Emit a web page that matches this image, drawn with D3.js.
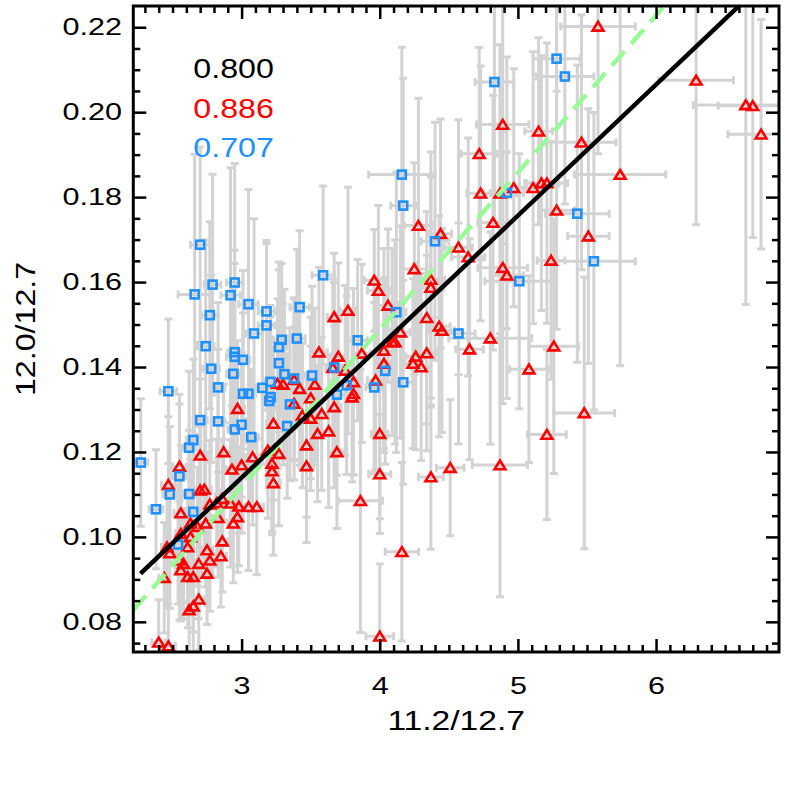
<!DOCTYPE html>
<html>
<head>
<meta charset="utf-8">
<script src="https://cdn.jsdelivr.net/npm/d3@7"></script>
<style>
  body { margin: 0; background: #fff; }
  text { font-family: "Liberation Sans", Arial, sans-serif; }
</style>
</head>
<body>
<svg id="chart" width="786" height="786"></svg>
<script>
//*** données ****************************************************************/
// triangles rouges : x, y, erreur x, erreur y
const redX = [5.58, 6.29, 6.65, 6.70, 6.76, 4.89, 5.15, 4.72, 5.46, 5.74, 4.73, 4.87, 4.97, 5.11, 5.17, 5.21, 5.28, 5.51, 4.28, 4.44,
  4.82, 4.57, 4.64, 4.25, 4.37, 4.37, 4.89, 4.92, 5.24, 4.34, 4.43, 4.45, 4.80, 4.65, 5.26, 4.15, 4.11, 4.26, 4.34, 4.24,
  4.30, 5.08, 5.48, 5.21, 4.87, 4.51, 4.37, 4.16, 4.00, 3.69, 4.00, 3.86, 4.00, 3.77, 3.67, 4.06, 3.56, 3.70, 3.87, 4.03,
  4.09, 4.03, 3.66, 3.75, 3.81, 3.81, 3.80, 3.97, 3.42, 3.26, 3.50, 3.38, 3.67, 3.58, 3.44, 3.23, 3.50, 3.55, 3.63, 3.47,
  3.19, 3.27, 3.22, 3.22, 3.47, 3.23, 3.08, 3.96, 3.99, 3.38, 3.53, 3.30, 2.97, 2.70, 2.87, 2.93, 3.00, 2.55, 2.47, 2.70,
  2.73, 2.77, 2.83, 2.82, 2.56, 2.56, 2.63, 2.68, 2.74, 2.86, 2.92, 2.98, 3.05, 3.11, 2.97, 2.94, 2.46, 2.48, 2.55, 2.61,
  2.75, 2.77, 2.69, 2.86, 2.85, 2.56, 2.61, 2.65, 2.75, 2.44, 2.69, 2.65, 2.62, 2.40, 2.47, 2.58, 2.63];
const redY = [0.2202, 0.2075, 0.2017, 0.2015, 0.1948, 0.1971, 0.1955, 0.1902, 0.1929, 0.1853, 0.1809, 0.1809, 0.1822, 0.1822, 0.1833, 0.1833, 0.1769, 0.1708, 0.1733, 0.1714,
  0.1740, 0.1682, 0.1659, 0.1631, 0.1606, 0.1587, 0.1634, 0.1616, 0.1651, 0.1516, 0.1496, 0.1486, 0.1468, 0.1442, 0.1449, 0.1482, 0.1459, 0.1425, 0.1433, 0.1408,
  0.1400, 0.1395, 0.1292, 0.1241, 0.1169, 0.1163, 0.1141, 0.0965, 0.1243, 0.1200, 0.1148, 0.1085, 0.0766, 0.1533, 0.1518, 0.1545, 0.1435, 0.1425, 0.1432, 0.1439,
  0.1459, 0.1408, 0.1398, 0.1392, 0.1365, 0.1337, 0.1329, 0.1369, 0.1349, 0.1361, 0.1327, 0.1314, 0.1306, 0.1290, 0.1286, 0.1267, 0.1279, 0.1243, 0.1249, 0.1216,
  0.1204, 0.1196, 0.1173, 0.1155, 0.1167, 0.1127, 0.1188, 0.1604, 0.1580, 0.1370, 0.1359, 0.1359, 0.1302, 0.1192, 0.1200, 0.1159, 0.1169, 0.1166, 0.1123, 0.1110,
  0.1112, 0.1077, 0.1045, 0.1080, 0.1056, 0.1008, 0.1032, 0.1024, 0.1032, 0.1090, 0.1079, 0.1072, 0.1071, 0.1071, 0.1047, 0.1032, 0.0976, 0.0962, 0.0945, 0.0976,
  0.0969, 0.0945, 0.0937, 0.0990, 0.0955, 0.0922, 0.0906, 0.0906, 0.0914, 0.0904, 0.0853, 0.0837, 0.0828, 0.0752, 0.0743, 0.0937, 0.1000];
const redXErr = [0.27, 0.27, 0.38, 0.25, 0.24, 0.19, 0.10, 0.13, 0.25, 0.33, 0.10, 0.12, 0.09, 0.10, 0.12, 0.15, 0.13, 0.15, 0.10, 0.08,
  0.11, 0.10, 0.12, 0.09, 0.10, 0.09, 0.18, 0.12, 0.10, 0.10, 0.08, 0.09, 0.30, 0.10, 0.18, 0.07, 0.06, 0.07, 0.08, 0.06,
  0.07, 0.14, 0.22, 0.14, 0.20, 0.10, 0.09, 0.12, 0.06, 0.06, 0.08, 0.16, 0.10, 0.06, 0.05, 0.07, 0.06, 0.05, 0.06, 0.07,
  0.06, 0.05, 0.05, 0.05, 0.06, 0.05, 0.05, 0.06, 0.05, 0.05, 0.05, 0.05, 0.05, 0.05, 0.05, 0.05, 0.04, 0.05, 0.05, 0.05,
  0.04, 0.05, 0.04, 0.04, 0.05, 0.05, 0.05, 0.07, 0.08, 0.05, 0.05, 0.05, 0.05, 0.05, 0.05, 0.04, 0.05, 0.05, 0.05, 0.04,
  0.05, 0.05, 0.04, 0.04, 0.05, 0.04, 0.04, 0.04, 0.04, 0.05, 0.04, 0.05, 0.05, 0.05, 0.04, 0.04, 0.04, 0.05, 0.04, 0.04,
  0.04, 0.04, 0.04, 0.04, 0.04, 0.04, 0.04, 0.04, 0.04, 0.04, 0.04, 0.04, 0.04, 0.05, 0.05, 0.04, 0.04];
const redYErr = [0.030, 0.034, 0.047, 0.031, 0.027, 0.028, 0.022, 0.025, 0.030, 0.045, 0.030, 0.035, 0.028, 0.032, 0.030, 0.033, 0.028, 0.030, 0.030, 0.027,
  0.030, 0.030, 0.028, 0.025, 0.030, 0.026, 0.032, 0.029, 0.028, 0.025, 0.026, 0.024, 0.025, 0.026, 0.030, 0.025, 0.024, 0.022, 0.023, 0.020,
  0.022, 0.022, 0.032, 0.020, 0.031, 0.016, 0.017, 0.021, 0.020, 0.018, 0.014, 0.031, 0.017, 0.029, 0.015, 0.018, 0.020, 0.022, 0.021, 0.024,
  0.022, 0.020, 0.021, 0.020, 0.022, 0.019, 0.020, 0.021, 0.018, 0.020, 0.019, 0.018, 0.019, 0.018, 0.017, 0.018, 0.017, 0.016, 0.018, 0.017,
  0.016, 0.017, 0.016, 0.015, 0.018, 0.017, 0.016, 0.012, 0.020, 0.019, 0.018, 0.019, 0.016, 0.018, 0.016, 0.015, 0.016, 0.017, 0.016, 0.015,
  0.016, 0.015, 0.014, 0.015, 0.016, 0.014, 0.015, 0.014, 0.015, 0.014, 0.015, 0.014, 0.015, 0.016, 0.013, 0.014, 0.014, 0.013, 0.014, 0.013,
  0.013, 0.012, 0.013, 0.012, 0.012, 0.012, 0.012, 0.013, 0.012, 0.013, 0.012, 0.011, 0.012, 0.010, 0.010, 0.013, 0.014];

// carrés bleus : x, y, erreur x, erreur y
const blueX = [5.28, 5.34, 4.83, 4.16, 4.17, 4.92, 5.43, 4.40, 5.55, 5.01, 4.12, 4.57, 4.17, 2.70, 2.66, 2.79, 2.92, 2.95, 2.77, 3.05,
  3.18, 3.18, 3.42, 3.59, 2.74, 2.78, 3.09, 3.29, 3.27, 3.40, 3.84, 2.95, 2.95, 3.01, 2.94, 3.27, 3.31, 3.51, 3.67, 2.83,
  2.47, 3.01, 3.05, 3.15, 3.21, 4.04, 3.96, 3.76, 3.38, 3.21, 3.69, 3.35, 3.33, 2.27, 2.38, 2.48, 2.55, 2.62, 2.65, 2.62,
  2.65, 2.54, 2.70, 2.83, 2.95, 3.00, 3.07, 3.20];
const blueY = [0.2126, 0.2084, 0.2071, 0.1853, 0.1780, 0.1810, 0.1761, 0.1696, 0.1649, 0.1602, 0.1529, 0.1479, 0.1364, 0.1688, 0.1571, 0.1594, 0.1569, 0.1599, 0.1522, 0.1548,
  0.1531, 0.1498, 0.1541, 0.1616, 0.1449, 0.1396, 0.1479, 0.1464, 0.1447, 0.1467, 0.1463, 0.1435, 0.1424, 0.1417, 0.1384, 0.1409, 0.1383, 0.1380, 0.1399, 0.1352,
  0.1343, 0.1337, 0.1337, 0.1351, 0.1329, 0.1391, 0.1352, 0.1357, 0.1373, 0.1365, 0.1335, 0.1312, 0.1261, 0.1175, 0.1065, 0.1100, 0.1143, 0.1210, 0.1228, 0.1101,
  0.1059, 0.0982, 0.1275, 0.1272, 0.1253, 0.1264, 0.1235, 0.1320];
const blueXErr = [0.17, 0.21, 0.14, 0.24, 0.09, 0.12, 0.23, 0.10, 0.30, 0.25, 0.07, 0.12, 0.08, 0.07, 0.12, 0.06, 0.07, 0.06, 0.06, 0.07,
  0.06, 0.06, 0.07, 0.08, 0.06, 0.06, 0.06, 0.06, 0.06, 0.06, 0.07, 0.05, 0.06, 0.05, 0.05, 0.06, 0.05, 0.06, 0.06, 0.05,
  0.06, 0.05, 0.05, 0.05, 0.05, 0.07, 0.06, 0.06, 0.05, 0.05, 0.06, 0.05, 0.05, 0.05, 0.05, 0.05, 0.05, 0.05, 0.05, 0.05,
  0.05, 0.05, 0.05, 0.05, 0.05, 0.05, 0.05, 0.05];
const blueYErr = [0.030, 0.030, 0.033, 0.030, 0.030, 0.032, 0.035, 0.028, 0.035, 0.030, 0.033, 0.026, 0.024, 0.023, 0.033, 0.026, 0.030, 0.028, 0.022, 0.027,
  0.016, 0.020, 0.018, 0.021, 0.025, 0.022, 0.027, 0.018, 0.020, 0.021, 0.019, 0.024, 0.022, 0.021, 0.020, 0.022, 0.020, 0.021, 0.020, 0.020,
  0.017, 0.019, 0.020, 0.018, 0.019, 0.022, 0.020, 0.021, 0.019, 0.018, 0.019, 0.018, 0.017, 0.015, 0.014, 0.016, 0.017, 0.018, 0.019, 0.015,
  0.016, 0.014, 0.018, 0.017, 0.018, 0.017, 0.016, 0.018];

// droites : [ordonnée à l'origine, pente, x de départ]
const fitNoir = [0.0214, 0.03085, 2.268];
const fitVert = [0.0008, 0.0370, 2.216];

// coefficients affichés
const coefTextes = ["0.800", "0.886", "0.707"];
const coefCouleurs = ["#000000", "#ff0000", "#1e90ff"];

const xTicks = [3, 4, 5, 6];
const yTicks = [0.08, 0.10, 0.12, 0.14, 0.16, 0.18, 0.20, 0.22];

//*** cadre ******************************************************************/
const gauche = 133.3, droite = 779, haut = 6, bas = 652;
const svg = d3.select("#chart");

const x = d3.scaleLinear().domain([2.216, 6.89]).range([gauche, droite]);
const y = d3.scaleLinear().domain([0.0729, 0.2250]).range([bas, haut]);

svg.append("clipPath").attr("id", "zone")
  .append("rect")
  .attr("x", gauche).attr("y", haut)
  .attr("width", droite - gauche).attr("height", bas - haut);

const tracé = svg.append("g").attr("clip-path", "url(#zone)");

// regroupe les points en objets
const rouges = redX.map((d, i) => ({ x: d, y: redY[i], ex: redXErr[i], ey: redYErr[i] }));
const bleus = blueX.map((d, i) => ({ x: d, y: blueY[i], ex: blueXErr[i], ey: blueYErr[i] }));
const tous = rouges.concat(bleus);

//*** barres d'erreur ********************************************************/
const gris = "#d3d3d3";
const cap = 4;
const barres = tracé.append("g")
  .attr("stroke", gris).attr("stroke-width", 3).attr("fill", "none");

tous.forEach((d) => {
  const cx = x(d.x), cy = y(d.y);
  const x0 = x(d.x - d.ex), x1 = x(d.x + d.ex);
  const y0 = y(d.y - d.ey), y1 = y(d.y + d.ey);
  // barre verticale
  barres.append("path")
    .attr("d", `M${cx},${y0}V${y1}M${cx - cap},${y0}H${cx + cap}M${cx - cap},${y1}H${cx + cap}`);
  // barre horizontale
  barres.append("path")
    .attr("d", `M${x0},${cy}H${x1}M${x0},${cy - cap}V${cy + cap}M${x1},${cy - cap}V${cy + cap}`);
});

//*** symboles ***************************************************************/
tracé.append("g")
  .selectAll("path")
  .data(rouges)
  .join("path")
  .attr("transform", (d) => `translate(${x(d.x)},${y(d.y)})`)
  .attr("d", "M0,-4.6L5.4,4.2L-5.4,4.2Z")
  .attr("fill", "none")
  .attr("stroke", "#ff0000")
  .attr("stroke-width", 2.6);

tracé.append("g")
  .selectAll("rect")
  .data(bleus)
  .join("rect")
  .attr("x", (d) => x(d.x) - 4)
  .attr("y", (d) => y(d.y) - 4)
  .attr("width", 8)
  .attr("height", 8)
  .attr("fill", "none")
  .attr("stroke", "#1e90ff")
  .attr("stroke-width", 2.6);

//*** droites ****************************************************************/
const ligne = d3.line().x((d) => x(d[0])).y((d) => y(d[1]));
const xFin = 7;

tracé.append("path")
  .datum([[fitVert[2], fitVert[0] + fitVert[1] * fitVert[2]], [xFin, fitVert[0] + fitVert[1] * xFin]])
  .attr("d", ligne)
  .attr("stroke", "#98fb98")
  .attr("stroke-width", 4.5)
  .attr("stroke-dasharray", "19,10")
  .attr("fill", "none");

tracé.append("path")
  .datum([[fitNoir[2], fitNoir[0] + fitNoir[1] * fitNoir[2]], [xFin, fitNoir[0] + fitNoir[1] * xFin]])
  .attr("d", ligne)
  .attr("stroke", "#000")
  .attr("stroke-width", 4.5)
  .attr("fill", "none");

//*** axes *******************************************************************/
const xMineurs = d3.range(23, 69).map((d) => d / 10).filter((d) => !xTicks.includes(d));
const yMineurs = d3.range(15, 45).map((d) => d * 0.005).filter((d) => !yTicks.some((t) => Math.abs(t - d) < 1e-9));

const etirement = "scale(1.33,1)";

function styliser(g) {
  g.select(".domain").remove();
  g.selectAll("line").attr("stroke", "#000").attr("stroke-width", 2.5);
  g.selectAll("text")
    .attr("font-size", 23)
    .attr("font-family", "Liberation Sans, Arial, sans-serif")
    .attr("fill", "#000")
    .attr("transform", etirement);
}

// bas
svg.append("g").attr("transform", `translate(0,${bas})`)
  .call(d3.axisBottom(x).tickValues(xTicks).tickSize(-13).tickPadding(26).tickFormat(d3.format("d")))
  .call(styliser);
svg.append("g").attr("transform", `translate(0,${bas})`)
  .call(d3.axisBottom(x).tickValues(xMineurs).tickSize(-7).tickFormat(""))
  .call(styliser);
// haut
svg.append("g").attr("transform", `translate(0,${haut})`)
  .call(d3.axisTop(x).tickValues(xTicks).tickSize(-13).tickFormat(""))
  .call(styliser);
svg.append("g").attr("transform", `translate(0,${haut})`)
  .call(d3.axisTop(x).tickValues(xMineurs).tickSize(-7).tickFormat(""))
  .call(styliser);
// gauche
svg.append("g").attr("transform", `translate(${gauche},0)`)
  .call(d3.axisLeft(y).tickValues(yTicks).tickSize(-13).tickPadding(8.5).tickFormat(d3.format(".2f")))
  .call(styliser);
svg.append("g").attr("transform", `translate(${gauche},0)`)
  .call(d3.axisLeft(y).tickValues(yMineurs).tickSize(-7).tickFormat(""))
  .call(styliser);
// droite
svg.append("g").attr("transform", `translate(${droite},0)`)
  .call(d3.axisRight(y).tickValues(yTicks).tickSize(-13).tickFormat(""))
  .call(styliser);
svg.append("g").attr("transform", `translate(${droite},0)`)
  .call(d3.axisRight(y).tickValues(yMineurs).tickSize(-7).tickFormat(""))
  .call(styliser);

// cadre
svg.append("rect")
  .attr("x", gauche).attr("y", haut)
  .attr("width", droite - gauche).attr("height", bas - haut)
  .attr("fill", "none").attr("stroke", "#000").attr("stroke-width", 3);

//*** titres *****************************************************************/
svg.append("text")
  .attr("transform", `translate(${(gauche + droite) / 2},730) scale(1.2,1)`)
  .attr("text-anchor", "middle")
  .attr("font-size", 28)
  .text("11.2/12.7");

svg.append("text")
  .attr("transform", `translate(35,${(haut + bas) / 2}) rotate(-90) scale(1.15,1)`)
  .attr("text-anchor", "middle")
  .attr("font-size", 28)
  .text("12.0/12.7");

//*** coefficients ***********************************************************/
svg.append("g")
  .selectAll("text")
  .data(coefTextes)
  .join("text")
  .attr("transform", (d, i) => `translate(193.3,${78.3 + i * 39.2}) scale(1.15,1)`)
  .attr("font-size", 28)
  .attr("fill", (d, i) => coefCouleurs[i])
  .text((d) => d);
</script>
</body>
</html>
